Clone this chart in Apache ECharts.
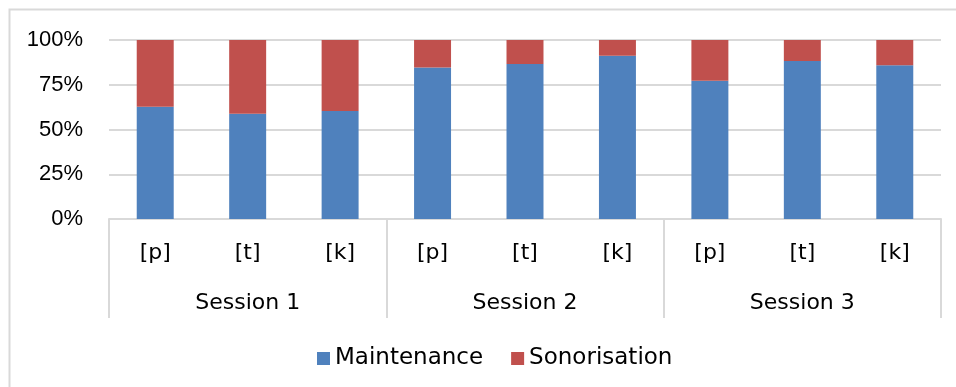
<!DOCTYPE html>
<html>
<head>
<meta charset="utf-8">
<script src="https://cdn.jsdelivr.net/npm/echarts@6/dist/echarts.min.js"></script>
<style>
  html, body { margin: 0; padding: 0; background: #fff; }
  #chart { width: 956px; height: 387px; }
</style>
</head>
<body>
<div id="chart"></div>
<script>
// Phoneme categories, grouped by session
const phonemes = ['[p]', '[t]', '[k]', '[p]', '[t]', '[k]', '[p]', '[t]', '[k]'];
const sessions = ['Session 1', 'Session 2', 'Session 3'];

// Share of responses (%) per phoneme
const maintenance = [62.7, 58.8, 60.3, 84.7, 86.6, 91.2, 77.3, 88.3, 85.9];
const sonorisation = [37.3, 41.2, 39.7, 15.3, 13.4, 8.8, 22.7, 11.7, 14.1];

const yTicks = [0, 25, 50, 75, 100];

const chart = echarts.init(document.getElementById('chart'), null, { renderer: 'canvas' });

const lineGray = '#d9d9d9';
const catFont = 'DejaVu Sans';

chart.setOption({
  animation: false,
  backgroundColor: '#ffffff',
  graphic: [{
    type: 'rect',
    shape: { x: 9.5, y: 9.5, width: 980, height: 420 },
    style: { fill: null, stroke: lineGray, lineWidth: 2 },
    silent: true
  }],
  grid: { left: 109, right: 15, top: 40, bottom: 168 },
  legend: {
    data: ['Maintenance', 'Sonorisation'],
    left: 312,
    top: 342,
    icon: 'rect',
    itemWidth: 13,
    itemHeight: 13,
    itemGap: 28,
    textStyle: { fontFamily: catFont, fontSize: 23, color: '#000' }
  },
  xAxis: [
    {
      type: 'category',
      data: phonemes,
      position: 'bottom',
      axisLine: { show: true, lineStyle: { color: lineGray, width: 2 } },
      axisTick: { show: false },
      axisLabel: { margin: 23, fontFamily: catFont, fontSize: 22, color: '#000' },
      splitLine: { show: false }
    },
    {
      type: 'category',
      data: sessions,
      position: 'bottom',
      offset: 0,
      axisLine: { show: false },
      axisTick: { show: true, length: 99, lineStyle: { color: lineGray, width: 2 } },
      axisLabel: { margin: 73, fontFamily: catFont, fontSize: 22, color: '#000' },
      splitLine: { show: false }
    }
  ],
  yAxis: {
    type: 'value',
    min: yTicks[0],
    max: yTicks[yTicks.length - 1],
    interval: 25,
    axisLine: { show: false },
    axisTick: { show: false },
    axisLabel: {
      margin: 26,
      fontFamily: 'Liberation Sans',
      fontSize: 22,
      color: '#000',
      formatter: '{value}%'
    },
    splitLine: { lineStyle: { color: lineGray, width: 2 } }
  },
  series: [
    {
      name: 'Maintenance',
      type: 'bar',
      stack: 'total',
      xAxisIndex: 0,
      barWidth: '40%',
      data: maintenance,
      itemStyle: { color: '#4F81BD' }
    },
    {
      name: 'Sonorisation',
      type: 'bar',
      stack: 'total',
      xAxisIndex: 0,
      barWidth: '40%',
      data: sonorisation,
      itemStyle: { color: '#C0504D' }
    }
  ]
});
</script>
</body>
</html>
